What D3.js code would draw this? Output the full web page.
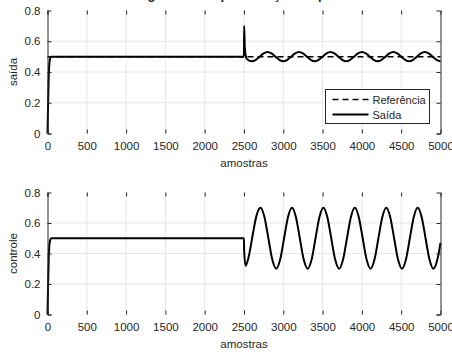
<!DOCTYPE html>
<html>
<head>
<meta charset="utf-8">
<script src="https://cdn.jsdelivr.net/npm/d3@7"></script>
<style>
  body { margin: 0; background: #fff; }
  svg text { font-family: "Liberation Sans", Arial, sans-serif; fill: #262626; }
</style>
</head>
<body>
<div class="content"></div>
<script>
var width = 452
var height = 352

// x ticks and y ticks
var xTicks = [0, 500, 1000, 1500, 2000, 2500, 3000, 3500, 4000, 4500, 5000]
var yTicks = [0, 0.2, 0.4, 0.6, 0.8]

// reference (dashed)
var refX = [0, 5000]
var refY = [0.5, 0.5]

// output (saída)
var outX = [0, 8, 16, 25, 35, 50, 2499, 2502, 2510, 2530, 2560, 2600, 2650, 2700, 2750, 2800, 2850, 2900, 2950, 3000,
  3050, 3100, 3150, 3200, 3250, 3300, 3350, 3400, 3450, 3500, 3550, 3600, 3650, 3700, 3750, 3800, 3850, 3900, 3950, 4000,
  4050, 4100, 4150, 4200, 4250, 4300, 4350, 4400, 4450, 4500, 4550, 4600, 4650, 4700, 4750, 4800, 4850, 4900, 4950, 5000]
var outY = [0, 0.2, 0.38, 0.46, 0.49, 0.5, 0.5, 0.70, 0.56, 0.49, 0.475, 0.47, 0.479, 0.5, 0.521, 0.53, 0.521, 0.5, 0.479, 0.47,
  0.479, 0.5, 0.521, 0.53, 0.521, 0.5, 0.479, 0.47, 0.479, 0.5, 0.521, 0.53, 0.521, 0.5, 0.479, 0.47, 0.479, 0.5, 0.521, 0.53,
  0.521, 0.5, 0.479, 0.47, 0.479, 0.5, 0.521, 0.53, 0.521, 0.5, 0.479, 0.47, 0.479, 0.5, 0.521, 0.53, 0.521, 0.5, 0.479, 0.47]

// control signal (controle)
var ctlX = [0, 8, 16, 25, 35, 50, 2499, 2502, 2520, 2560, 2610, 2660, 2710, 2760, 2810, 2860, 2910, 2960, 3010, 3060,
  3110, 3160, 3210, 3260, 3310, 3360, 3410, 3460, 3510, 3560, 3610, 3660, 3710, 3760, 3810, 3860, 3910, 3960, 4010, 4060,
  4110, 4160, 4210, 4260, 4310, 4360, 4410, 4460, 4510, 4560, 4610, 4660, 4710, 4760, 4810, 4860, 4910, 4960, 5000]
var ctlY = [0, 0.2, 0.38, 0.46, 0.49, 0.5, 0.5, 0.42, 0.32, 0.38, 0.52, 0.65, 0.70, 0.64, 0.50, 0.36, 0.30, 0.36, 0.50, 0.64,
  0.70, 0.64, 0.50, 0.36, 0.30, 0.36, 0.50, 0.64, 0.70, 0.64, 0.50, 0.36, 0.30, 0.36, 0.50, 0.64, 0.70, 0.64, 0.50, 0.36,
  0.30, 0.36, 0.50, 0.64, 0.70, 0.64, 0.50, 0.36, 0.30, 0.36, 0.50, 0.64, 0.70, 0.64, 0.50, 0.36, 0.30, 0.36, 0.47]

var axisColor = '#262626'
var gridColor = '#e6e6e6'

var svg = d3.select('.content').append('svg')
    .attr('width', width)
    .attr('height', height)

// title (cut off at the top edge, only the descenders show)
svg.append('text')
    .attr('x', 244)
    .attr('y', -1.5)
    .attr('text-anchor', 'middle')
    .style('font-size', '13px')
    .style('font-weight', 'bold')
    .text('Seguimento e perturbação da planta')

var x = d3.scaleLinear().domain([0, 5000]).range([47.5, 440.5])

function zip(xs, ys) {
    return xs.map(function(d, i) { return [d, ys[i]] })
}

function panel(top, bottom, ylabel, series) {
    var y = d3.scaleLinear().domain([0, 0.8]).range([bottom, top])
    var g = svg.append('g')

    // grid
    g.append('g').selectAll('line')
        .data(xTicks.slice(1, -1))
        .enter().append('line')
        .attr('x1', x).attr('x2', x)
        .attr('y1', top).attr('y2', bottom)
        .attr('stroke', gridColor)
    g.append('g').selectAll('line')
        .data(yTicks.slice(1, -1))
        .enter().append('line')
        .attr('y1', y).attr('y2', y)
        .attr('x1', x.range()[0]).attr('x2', x.range()[1])
        .attr('stroke', gridColor)

    // data lines
    var line = d3.line()
        .x(function(d) { return x(d[0]) })
        .y(function(d) { return y(d[1]) })
        .curve(d3.curveMonotoneX)
    series.forEach(function(s) {
        g.append('path')
            .datum(s.data)
            .attr('d', line)
            .attr('fill', 'none')
            .attr('stroke', '#000')
            .attr('stroke-width', s.w)
            .attr('stroke-dasharray', s.dash || null)
    })

    // axes with inward ticks on all four sides
    var bx = g.append('g').attr('transform', 'translate(0,' + bottom + ')')
        .call(d3.axisBottom(x).tickValues(xTicks).tickSize(-4).tickPadding(8).tickFormat(d3.format('d')))
    var tx = g.append('g').attr('transform', 'translate(0,' + top + ')')
        .call(d3.axisTop(x).tickValues(xTicks).tickSize(-4).tickFormat(''))
    var ly = g.append('g').attr('transform', 'translate(' + x.range()[0] + ',0)')
        .call(d3.axisLeft(y).tickValues(yTicks).tickSize(-4).tickPadding(7).tickFormat(function(d) { return d === 0 ? '0' : d3.format('.1f')(d) }))
    var ry = g.append('g').attr('transform', 'translate(' + x.range()[1] + ',0)')
        .call(d3.axisRight(y).tickValues(yTicks).tickSize(-4).tickFormat(''))
    ;[bx, tx, ly, ry].forEach(function(a) {
        a.selectAll('.domain').attr('stroke', axisColor)
        a.selectAll('.tick line').attr('stroke', axisColor)
        a.selectAll('text').style('font-size', '11.5px').attr('fill', axisColor)
        a.selectAll('.domain').attr('d', function() { return d3.select(this).attr('d').replace(/V-?4|H-?4/g, '') })
    })

    g.append('text')
        .attr('x', 244)
        .attr('y', bottom + 33)
        .attr('text-anchor', 'middle')
        .style('font-size', '11.5px')
        .text('amostras')
    g.append('text')
        .attr('transform', 'translate(17,' + ((top + bottom) / 2) + ') rotate(-90)')
        .attr('text-anchor', 'middle')
        .style('font-size', '11.5px')
        .text(ylabel)
    return g
}

var g1 = panel(10.5, 133.5, 'saída', [
    { data: zip(outX, outY), w: 2 },
    { data: zip(refX, refY), w: 1.5, dash: '6,4' }
])

panel(192.5, 314.5, 'controle', [
    { data: zip(ctlX, ctlY), w: 2 }
])

// legend
var leg = g1.append('g').attr('transform', 'translate(325.5,89.5)')
leg.append('rect')
    .attr('width', 104).attr('height', 34)
    .attr('fill', '#fff').attr('stroke', axisColor)
var items = [{ name: 'Referência', dash: '6,4', w: 1.5 }, { name: 'Saída', dash: null, w: 2 }]
items.forEach(function(d, i) {
    var yy = 10 + i * 15
    leg.append('line')
        .attr('x1', 7).attr('x2', 43).attr('y1', yy).attr('y2', yy)
        .attr('stroke', '#000').attr('stroke-width', d.w)
        .attr('stroke-dasharray', d.dash)
    leg.append('text')
        .attr('x', 47).attr('y', yy + 4)
        .style('font-size', '11px')
        .text(d.name)
})
</script>
</body>
</html>
